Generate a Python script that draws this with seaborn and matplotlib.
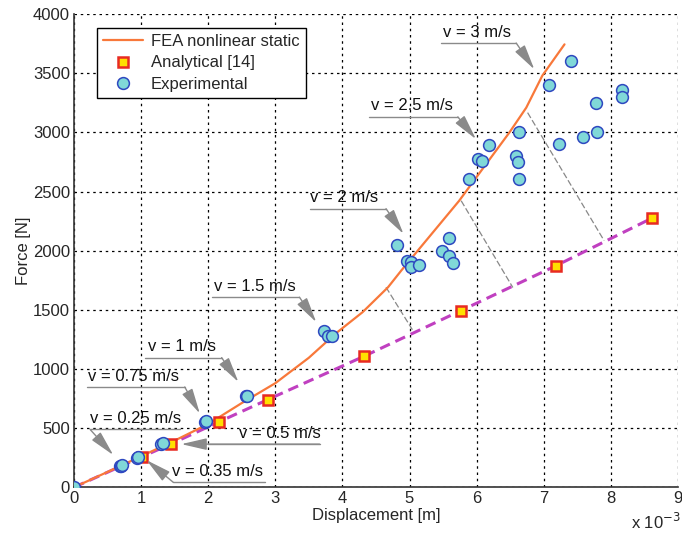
import numpy as np
import pandas as pd
import matplotlib
matplotlib.use('Agg')
import matplotlib.pyplot as plt
import seaborn as sns

# displacement in mm (axis shows x 10^-3 m), force in N
fea_x = [0, 0.5, 1.0, 1.5, 2.0, 2.5, 3.0, 3.5, 3.9, 4.3, 4.68, 4.88, 5.2, 5.74, 6.1, 6.49, 6.74, 6.98, 7.31]
fea_y = [0, 130, 262, 395, 535, 712, 880, 1095, 1300, 1480, 1691, 1834, 2053, 2422, 2700, 3000, 3209, 3480, 3744]

ana_x = [1.02, 1.44, 2.16, 2.89, 4.32, 5.76, 7.18, 8.62]
ana_y = [260, 365, 553, 742, 1107, 1492, 1872, 2277]

exp_x = [0.0, 0.68, 0.70, 0.72, 0.94, 0.96, 1.30, 1.32, 1.95, 1.97, 2.56, 2.58,
         3.72, 3.79, 3.85,
         4.81, 4.96, 5.02, 5.02, 5.14, 5.59, 5.48, 5.59, 5.65,
         7.40, 7.08, 8.16, 8.16, 7.78, 6.63, 7.80, 7.59, 6.18, 7.23,
         6.02, 6.08, 6.59, 6.62, 6.63, 5.88]
exp_y = [0, 183, 178, 186, 251, 256, 369, 373, 554, 559, 770, 775,
         1318, 1276, 1276,
         2051, 1911, 1902, 1866, 1883, 2108, 1995, 1956, 1900,
         3605, 3403, 3358, 3302, 3251, 2999, 3002, 2962, 2892, 2900,
         2771, 2754, 2802, 2749, 2608, 2608]

# velocity labels: text, text centre x, underline (x0, x1, y), arrow tail, arrow tip
labels = ['v = 3 m/s', 'v = 2.5 m/s', 'v = 2 m/s', 'v = 1.5 m/s', 'v = 1 m/s',
          'v = 0.75 m/s', 'v = 0.25 m/s', 'v = 0.5 m/s', 'v = 0.35 m/s']
label_x = [6.0, 5.04, 4.03, 2.69, 1.61, 0.88, 0.92, 3.07, 2.14]
underlines = [(5.47, 6.59, 3755), (4.40, 5.72, 3131), (3.51, 4.65, 2355), (2.05, 3.36, 1607),
              (1.06, 2.20, 1096), (0.20, 1.65, 848), (0.24, 1.58, 489), (2.0, 3.66, 365), (1.48, 2.84, 42)]
arrow_tail = [(6.59, 3755), (5.72, 3131), (4.65, 2355), (3.36, 1607), (2.20, 1096),
              (1.65, 848), (0.24, 489), (3.66, 365), (1.48, 42)]
arrow_tip = [(6.86, 3533), (5.99, 2943), (4.91, 2142), (3.61, 1396), (2.45, 890),
             (1.875, 624), (0.585, 273), (1.60, 365), (1.08, 230)]

# dashed connectors FEA -> analytical
conn_start = [(6.76, 3167), (5.77, 2422), (4.65, 1691)]
conn_end = [(7.90, 2085), (6.54, 1689), (5.05, 1326)]

sns.set_style('white')
plt.rcParams['font.family'] = ['Liberation Sans', 'DejaVu Sans']
plt.rcParams['font.size'] = 12

fig = plt.figure(figsize=(6.82, 5.39), dpi=100)
ax = fig.add_axes([0.1085, 0.0959, 0.8855, 0.878])

fea = pd.DataFrame({'x': fea_x, 'y': fea_y})
ana = pd.DataFrame({'x': [0] + ana_x, 'y': [0] + ana_y})
ana_pts = pd.DataFrame({'x': ana_x, 'y': ana_y})
exp = pd.DataFrame({'x': exp_x, 'y': exp_y})

sns.lineplot(data=ana, x='x', y='y', ax=ax, color='#c040c0', lw=2.2,
             linestyle=(0, (3.5, 2)), sort=False, zorder=2)
sns.lineplot(data=fea, x='x', y='y', ax=ax, color='#f8783a', lw=1.6, sort=False,
             zorder=3, label='FEA nonlinear static')
ax.plot(ana_pts['x'], ana_pts['y'], ls='none', marker='s', ms=6.5, mfc='#ffe000',
        mec='#e82a22', mew=1.8, zorder=4, label='Analytical [14]')
ax.plot(exp['x'], exp['y'], ls='none', marker='o', ms=8.5, mfc='#80d8d8',
        mec='#2e48c0', mew=1.1, zorder=5, label='Experimental')

grey = '#8a8a8a'
for (x0, y0), (x1, y1) in zip(conn_start, conn_end):
    ax.plot([x0, x1], [y0, y1], color='#888888', lw=0.9, ls=(0, (5, 2)), zorder=1)

for txt, lx, ul, tail, tip in zip(labels, label_x, underlines, arrow_tail, arrow_tip):
    ax.annotate(txt, xy=(lx, ul[2]), xytext=(0, 2.5), textcoords='offset points',
                ha='center', va='bottom', fontsize=12, color='#111111', zorder=6)
    ax.plot([ul[0], ul[1]], [ul[2], ul[2]], color=grey, lw=1.0, zorder=6)
    ax.annotate('', xy=tip, xytext=tail,
                arrowprops=dict(arrowstyle='-|>,head_length=1.3,head_width=0.3',
                                color=grey, lw=1.0, shrinkA=0, shrinkB=0), zorder=6)

ax.set_xlim(0, 9)
ax.set_ylim(0, 4000)
ax.set_xticks(range(0, 10))
ax.set_yticks(range(0, 4001, 500))
ax.grid(True, color='black', ls=(0, (2, 3)), lw=0.9)
for s in ['top', 'right']:
    ax.spines[s].set_visible(False)
for s in ['left', 'bottom']:
    ax.spines[s].set_color('#333333')
    ax.spines[s].set_linewidth(1.2)
ax.tick_params(direction='in', length=5, width=1, labelsize=12, color='#333333', pad=3)
ax.set_xlabel('Displacement [m]', fontsize=12, labelpad=1)
ax.set_ylabel('Force [N]', fontsize=12, labelpad=1)
fig.text(0.962, 0.018, r'x 10$^{-3}$', fontsize=12, ha='center')

leg = ax.legend(loc='upper left', bbox_to_anchor=(0.038, 0.97), borderaxespad=0,
                fontsize=12, frameon=True, fancybox=False, edgecolor='black',
                framealpha=1, handlelength=2.4, handletextpad=0.5,
                borderpad=0.35, labelspacing=0.38)
leg.get_frame().set_linewidth(1.0)

fig.savefig('out.png', dpi=100)
